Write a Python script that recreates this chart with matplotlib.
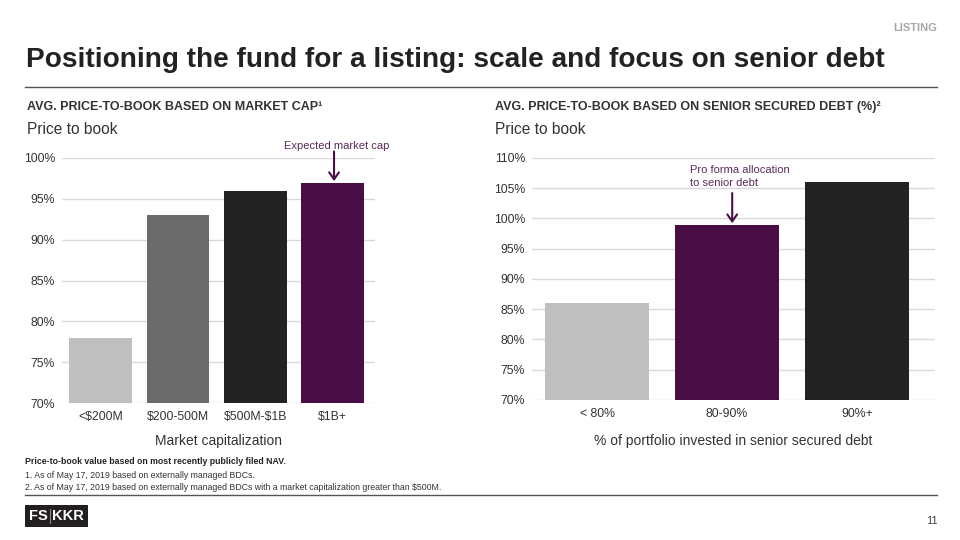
import matplotlib.pyplot as plt
from matplotlib.patches import Rectangle

plt.rcParams['font.family'] = ['Liberation Sans', 'DejaVu Sans']

# left chart data
cap_labels = ['<\\$200M', '\\$200-500M', '\\$500M-\\$1B', '\\$1B+']
cap_values = [78, 93, 96, 97]
cap_colors = ['#bfbfbf', '#6b6b6b', '#222222', '#4a0e47']
cap_ticks = [70, 75, 80, 85, 90, 95, 100]

# right chart data
debt_labels = ['< 80%', '80-90%', '90%+']
debt_values = [86, 99, 106]
debt_colors = ['#bfbfbf', '#4a0e47', '#222222']
debt_ticks = [70, 75, 80, 85, 90, 95, 100, 105, 110]

W, H = 960, 540
fig = plt.figure(figsize=(9.6, 5.4), dpi=100)


def px_axes(x0, y0, x1, y1):
    # pixel box (top-left origin) -> figure axes
    return fig.add_axes([x0 / W, 1 - y1 / H, (x1 - x0) / W, (y1 - y0) / H])


def style(ax, ticks, labels):
    ax.set_ylim(ticks[0], ticks[-1])
    ax.set_yticks(ticks)
    ax.set_yticklabels([f'{t}%' for t in ticks])
    ax.set_xticks(range(len(labels)))
    ax.set_xticklabels(labels)
    for s in ax.spines.values():
        s.set_visible(False)
    ax.grid(axis='y', color='#d9d9d9', linewidth=1)
    ax.set_axisbelow(True)
    ax.tick_params(length=0, labelsize=8.8, colors='#333333')
    ax.tick_params(axis='y', pad=5)
    ax.tick_params(axis='x', pad=6)


arrow = dict(arrowstyle='->,head_length=0.5,head_width=0.35', color='#4a0e47',
             lw=1.5, shrinkA=0, shrinkB=1)

# left chart
ax1 = px_axes(62, 158, 375, 403)
ax1.bar(range(len(cap_values)), cap_values, width=0.81, color=cap_colors)
ax1.set_xlim(-0.5, len(cap_values) - 0.45)
style(ax1, cap_ticks, cap_labels)
ax1.text(3.05, 100.9, 'Expected market cap', ha='center', va='bottom', fontsize=8,
         color='#5b2a58')
ax1.annotate('', xy=(3.02, 97), xytext=(3.02, 100.8), arrowprops=arrow,
             annotation_clip=False)
ax1.set_xlabel('Market capitalization', fontsize=10, color='#333333', labelpad=8)

# right chart
ax2 = px_axes(532, 158, 935, 400)
ax2.bar(range(len(debt_values)), debt_values, width=0.8, color=debt_colors)
ax2.set_xlim(-0.5, len(debt_values) - 0.4)
style(ax2, debt_ticks, debt_labels)
ax2.text(0.715, 108.8, 'Pro forma allocation\nto senior debt', ha='left', va='top',
         fontsize=8, color='#5b2a58', linespacing=1.3)
ax2.annotate('', xy=(1.04, 99), xytext=(1.04, 104.2), arrowprops=arrow)
ax2.set_xlabel('% of portfolio invested in senior secured debt', fontsize=10,
               color='#333333', labelpad=10)

# headings and text
fig.text(937 / W, 1 - 28 / H, 'LISTING', ha='right', va='center', fontsize=8,
         fontweight='bold', color='#a6a6a6')
fig.text(26 / W, 1 - 60 / H, 'Positioning the fund for a listing: scale and focus on senior debt',
         ha='left', va='center', fontsize=20.2, fontweight='bold', color='#222222')
fig.add_artist(plt.Line2D([25 / W, 937 / W], [1 - 87 / H] * 2, color='#555555', lw=1))

fig.text(27 / W, 1 - 107 / H, 'AVG. PRICE-TO-BOOK BASED ON MARKET CAP¹',
         ha='left', va='center', fontsize=9, fontweight='bold', color='#333333')
fig.text(27 / W, 1 - 130 / H, 'Price to book', ha='left', va='center', fontsize=11.2,
         color='#333333')
fig.text(495 / W, 1 - 107 / H, 'AVG. PRICE-TO-BOOK BASED ON SENIOR SECURED DEBT (%)²',
         ha='left', va='center', fontsize=9, fontweight='bold', color='#333333')
fig.text(495 / W, 1 - 130 / H, 'Price to book', ha='left', va='center', fontsize=11.2,
         color='#333333')

# footnotes
fig.text(25 / W, 1 - 462 / H, 'Price-to-book value based on most recently publicly filed NAV.',
         ha='left', va='center', fontsize=6.3, fontweight='bold', color='#222222')
fig.text(25 / W, 1 - 476 / H, '1. As of May 17, 2019 based on externally managed BDCs.',
         ha='left', va='center', fontsize=6.3, color='#333333')
fig.text(25 / W, 1 - 488 / H,
         '2. As of May 17, 2019 based on externally managed BDCs with a market capitalization greater than \\$500M.',
         ha='left', va='center', fontsize=6.3, color='#333333')
fig.add_artist(plt.Line2D([25 / W, 937 / W], [1 - 495 / H] * 2, color='#555555', lw=1))

# logo
fig.add_artist(Rectangle((25 / W, 1 - 527 / H), 63 / W, 22 / H, transform=fig.transFigure,
                         facecolor='#231f20', edgecolor='none'))
fig.text(38 / W, 1 - 516 / H, 'FS', ha='center', va='center', fontsize=10.5,
         fontweight='bold', color='white')
fig.add_artist(plt.Line2D([50 / W] * 2, [1 - 523 / H, 1 - 509 / H], color='#888888', lw=0.8))
fig.text(68 / W, 1 - 516 / H, 'KKR', ha='center', va='center', fontsize=10.5,
         fontweight='bold', color='white')
fig.text(938 / W, 1 - 521 / H, '11', ha='right', va='center', fontsize=8, color='#444444')

fig.savefig('out.png', dpi=100)
